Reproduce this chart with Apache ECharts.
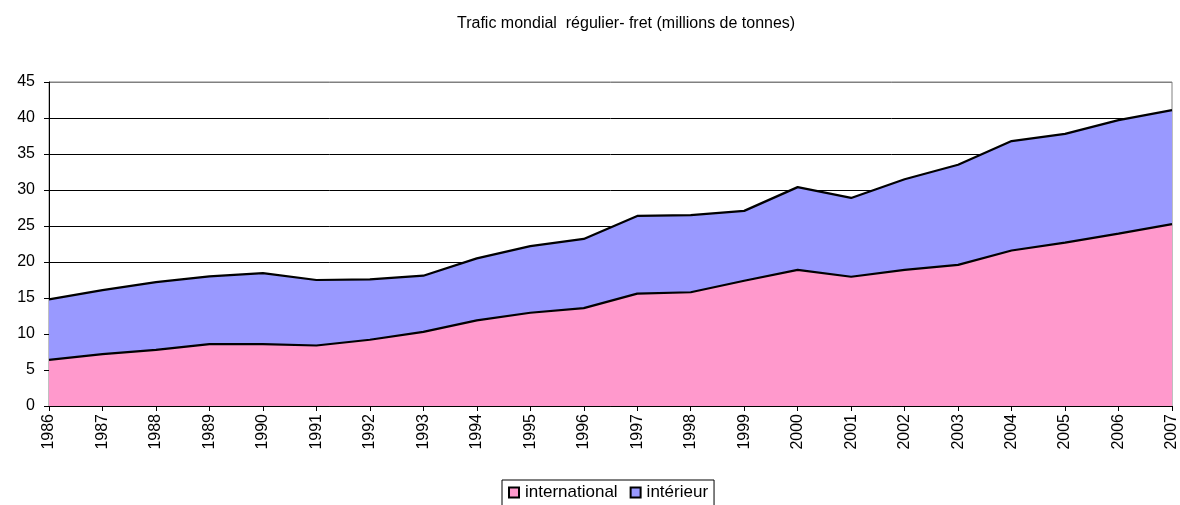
<!DOCTYPE html>
<html>
<head>
<meta charset="utf-8">
<script src="https://cdn.jsdelivr.net/npm/echarts@6/dist/echarts.min.js"></script>
<style>
    html, body { margin: 0; padding: 0; background: #fff; }
    #chart { width: 1180px; height: 505px; }
</style>
</head>
<body>
<div id="chart"></div>
<script>
var years = ['1986', '1987', '1988', '1989', '1990', '1991', '1992', '1993', '1994', '1995', '1996',
    '1997', '1998', '1999', '2000', '2001', '2002', '2003', '2004', '2005', '2006', '2007'];
var international = [6.4, 7.2, 7.8, 8.6, 8.6, 8.4, 9.2, 10.3, 11.9, 12.95, 13.6,
    15.6, 15.8, 17.4, 18.9, 17.95, 18.9, 19.6, 21.6, 22.7, 23.95, 25.25];
var interieur = [8.4, 8.9, 9.4, 9.4, 9.85, 9.1, 8.4, 7.8, 8.6, 9.25, 9.6,
    10.8, 10.7, 9.7, 11.5, 10.95, 12.6, 13.9, 15.2, 15.1, 15.75, 15.85];
var yTicks = [0, 5, 10, 15, 20, 25, 30, 35, 40, 45];

var font = 'Liberation Sans, Arial, sans-serif';

var areaChart = function () {
    var box = echarts.init(document.getElementById('chart'), null, {renderer: 'canvas'});
    var option = {
        animation: false,
        title: {
            text: 'Trafic mondial  régulier- fret (millions de tonnes)',
            left: 452,
            top: 11,
            textStyle: {fontFamily: font, fontSize: 16, fontWeight: 'normal', color: '#000'}
        },
        legend: {
            data: ['international', 'intérieur'],
            top: 480,
            left: 502,
            icon: 'rect',
            itemWidth: 10,
            itemHeight: 10,
            itemGap: 12,
            padding: [4, 6, 6, 6],
            borderColor: '#000',
            borderWidth: 1,
            itemStyle: {borderColor: '#000', borderWidth: 2},
            textStyle: {fontFamily: font, fontSize: 17, color: '#000', padding: [0, 0, 0, 1]}
        },
        grid: {
            left: 49,
            right: 7,
            top: 82,
            bottom: 99,
            show: true,
            borderColor: '#808080',
            borderWidth: 1
        },
        xAxis: {
            type: 'category',
            data: years,
            boundaryGap: false,
            axisLine: {lineStyle: {color: '#000', width: 1}},
            axisTick: {lineStyle: {color: '#000'}, length: 5},
            axisLabel: {rotate: 90, fontFamily: font, fontSize: 16, color: '#000', margin: 8}
        },
        yAxis: {
            type: 'value',
            min: yTicks[0],
            max: yTicks[yTicks.length - 1],
            interval: 5,
            axisLine: {show: true, lineStyle: {color: '#000', width: 1}},
            axisTick: {show: true, lineStyle: {color: '#000'}, length: 5},
            axisLabel: {fontFamily: font, fontSize: 16, color: '#000', margin: 14},
            splitLine: {lineStyle: {color: ['#000', '#000', '#000', '#000', '#000', '#000', '#000', '#000', '#000', '#808080'], width: 1}}
        },
        series: [
            {
                name: 'international',
                type: 'line',
                stack: 'total',
                data: international,
                symbol: 'none',
                lineStyle: {color: '#000', width: 2.2},
                itemStyle: {color: '#FF99CC'},
                areaStyle: {color: '#FF99CC', opacity: 1}
            },
            {
                name: 'intérieur',
                type: 'line',
                stack: 'total',
                data: interieur,
                symbol: 'none',
                lineStyle: {color: '#000', width: 2.2},
                itemStyle: {color: '#9999FF'},
                areaStyle: {color: '#9999FF', opacity: 1}
            }
        ]
    };
    box.setOption(option);
};

areaChart();
</script>
</body>
</html>
